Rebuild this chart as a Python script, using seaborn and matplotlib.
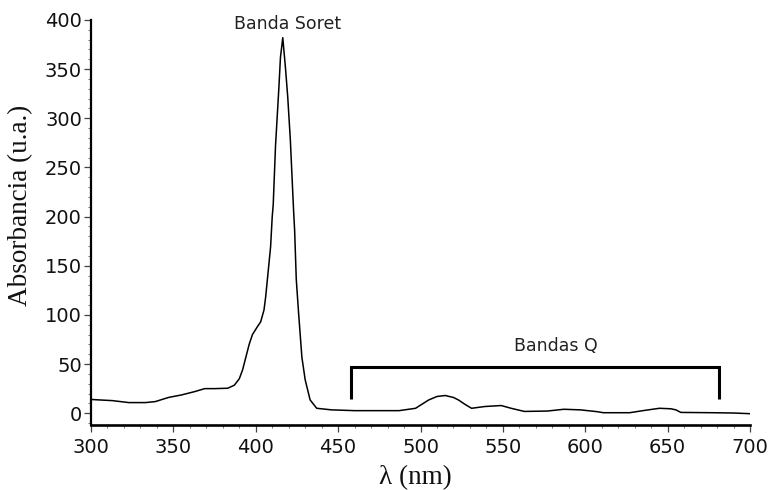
import matplotlib
matplotlib.use("Agg")
import matplotlib.pyplot as plt
import seaborn as sns
import pandas as pd
from matplotlib.ticker import MultipleLocator

# ---- data ----
wavelength = [300, 305, 313, 323, 333, 339, 347, 355, 363, 369, 375, 383, 387, 390,
              392, 394, 396, 398, 401, 403, 405, 406, 408, 409, 410, 410.6, 412, 414,
              415, 416.4, 418, 419.4, 421, 422.2, 423, 423.6, 424.6, 426, 428, 430,
              433, 437, 446, 460, 475, 487, 497, 505, 510, 515, 520, 523, 527, 531,
              539, 549, 555, 563, 577, 587, 597, 607, 611, 627, 635, 645, 652, 655,
              658, 677, 690, 700]
absorbance = [14, 13.5, 12.8, 10.8, 10.8, 11.8, 16, 18.6, 22, 25, 25, 25.4, 28.5, 35,
              44, 57, 70, 80, 88, 93, 105, 118, 152, 169, 200, 212, 272, 330,
              362, 382, 352, 322, 278, 234, 205, 186, 136, 102, 57, 34,
              13.5, 5, 3.4, 2.6, 2.6, 2.6, 5, 13.5, 17, 18, 16, 13.5, 9, 5,
              6.8, 7.8, 5, 1.8, 2.2, 4, 3.4, 1.6, 0.5, 0.5, 2.6, 5, 4.5, 3.4,
              0.8, 0.5, 0.2, -0.5]

x_ticks = [300, 350, 400, 450, 500, 550, 600, 650, 700]
y_ticks = [0, 50, 100, 150, 200, 250, 300, 350, 400]

soret_label = "Banda Soret"
soret_pos = (419.6, 396)
q_label = "Bandas Q"
q_pos = (582, 68.5)
bracket_x = [458, 458, 681, 681]
bracket_y = [14.5, 47.4, 47.4, 14.5]

df = pd.DataFrame({"wavelength": wavelength, "absorbance": absorbance})

sns.set_theme(style="ticks")
plt.rcParams["font.family"] = ["DejaVu Sans"]

fig = plt.figure(figsize=(7.72, 4.90), dpi=100)
ax = fig.add_axes([91 / 772, 65 / 490, 659 / 772, 405 / 490])

sns.lineplot(data=df, x="wavelength", y="absorbance", ax=ax, color="black",
             linewidth=1.1, sort=False, estimator=None)

ax.set_xlim(300, 700)
ax.set_ylim(-12, 400)
ax.set_xticks(x_ticks)
ax.set_yticks(y_ticks)
ax.xaxis.set_minor_locator(MultipleLocator(10))
ax.yaxis.set_minor_locator(MultipleLocator(10))

for s in ["top", "right"]:
    ax.spines[s].set_visible(False)
ax.spines["left"].set_linewidth(1.6)
ax.spines["bottom"].set_linewidth(1.9)
ax.spines["left"].set_color("black")
ax.spines["bottom"].set_color("black")

ax.tick_params(axis="both", which="major", direction="out", length=5, width=0.9,
               color="#444444", labelsize=14, labelcolor="#111111")
ax.tick_params(axis="y", which="major", pad=1.5)
ax.tick_params(axis="x", which="major", pad=4.3)
ax.tick_params(axis="both", which="minor", direction="out", length=2.5, width=0.7,
               color="#777777")

serif = ["Liberation Serif", "DejaVu Serif"]
ax.set_xlabel("λ (nm)", fontsize=19.5, family=serif, color="#111111")
ax.set_ylabel("Absorbancia (u.a.)", fontsize=19.5, family=serif, color="#111111")
ax.xaxis.set_label_coords(0.492, -0.098)
ax.yaxis.set_label_coords(-0.088, 0.543)

ax.text(soret_pos[0], soret_pos[1], soret_label, ha="center", va="center",
        fontsize=12.5, color="#222222", clip_on=False)
ax.text(q_pos[0], q_pos[1], q_label, ha="center", va="center",
        fontsize=12.5, color="#222222")
ax.plot(bracket_x, bracket_y, color="black", linewidth=2.2,
        solid_joinstyle="miter", solid_capstyle="butt")

fig.savefig("out.png", dpi=100)
